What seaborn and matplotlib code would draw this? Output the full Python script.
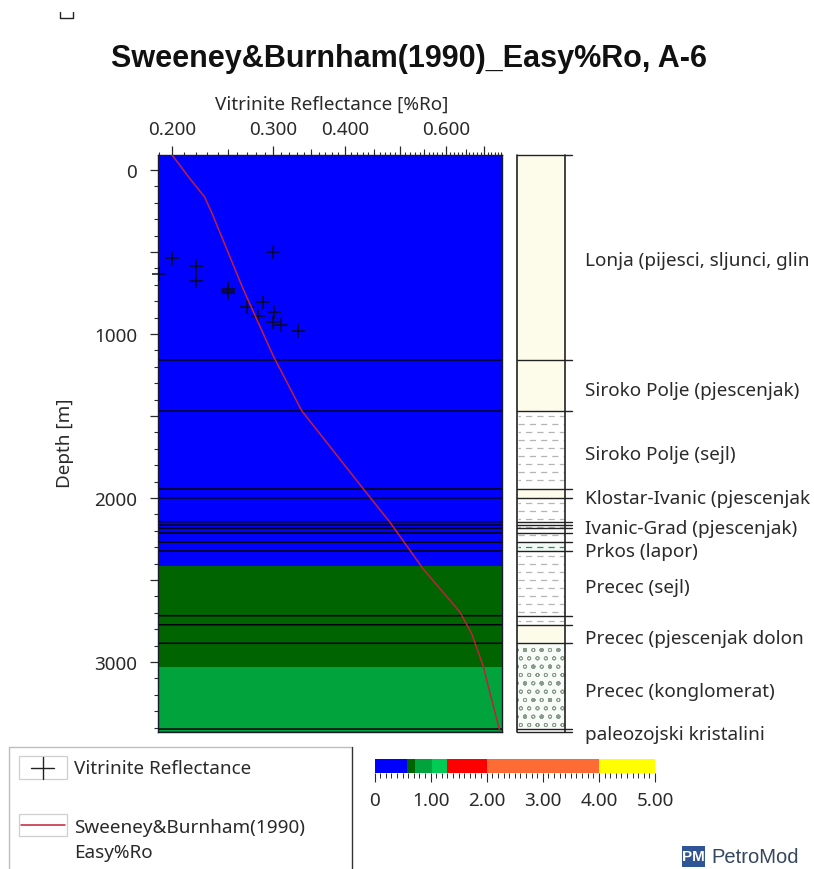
import numpy as np
import pandas as pd
import seaborn as sns
import matplotlib
matplotlib.use("Agg")
import matplotlib.pyplot as plt
from matplotlib.patches import Rectangle
from matplotlib.lines import Line2D
from matplotlib.ticker import FixedLocator, FixedFormatter, NullFormatter

# ---------- data ----------
vr_values = [0.300, 0.200, 0.190, 0.220, 0.220, 0.250, 0.250, 0.250, 0.270, 0.288, 0.282, 0.301, 0.300, 0.310, 0.332]
vr_depths = [498, 537, 635, 583, 677, 726, 738, 750, 837, 803, 888, 868, 929, 945, 984]
curve_ro = [0.200, 0.215, 0.228, 0.235, 0.266, 0.300, 0.3365, 0.431, 0.4795, 0.496, 0.548, 0.635, 0.666, 0.697, 0.745]
curve_depth = [-91, 55, 166, 268, 726, 1132, 1468, 1945, 2148, 2220, 2433, 2695, 2829, 3023, 3419]
horizons = [1159, 1470, 1945, 2000, 2145, 2165, 2185, 2213, 2270, 2323, 2718, 2773, 2886, 3409]
band_edges = [-91, 2417, 3031, 3427]
band_colors = ["#0000FF", "#006400", "#00A33C"]
scale_edges = [0, 0.58, 0.72, 1.03, 1.3, 2.0, 4.0, 5.0]
scale_colors = ["#0000FF", "#006400", "#00A33C", "#00CC55", "#FF0000", "#FF6B35", "#FFFF00"]
scale_ticks = [0, 1, 2, 3, 4, 5]
scale_labels = ["0", "1.00", "2.00", "3.00", "4.00", "5.00"]
lith_tops = [-91, 1159, 1470, 1945, 2000, 2145, 2270, 2323, 2718, 2773, 2886, 3409]
lith_bots = [1159, 1470, 1945, 2000, 2145, 2270, 2323, 2718, 2773, 2886, 3409, 3427]
lith_kind = ["sand", "sand", "shale", "sand", "shale", "shale", "marl", "shale", "shale", "sand", "congl", "shale"]
layer_names = ["Lonja (pijesci, sljunci, glin", "Siroko Polje (pjescenjak)", "Siroko Polje (sejl)",
               "Klostar-Ivanic (pjescenjak", "Ivanic-Grad (pjescenjak)", "Prkos (lapor)",
               "Precec (sejl)", "Precec (pjescenjak dolon", "Precec (konglomerat)", "paleozojski kristalini"]
layer_label_depth = [535, 1330, 1720, 1990, 2170, 2310, 2530, 2843, 3165, 3430]
x_major = [0.2, 0.3, 0.4, 0.5, 0.6, 0.7]
x_major_labels = ["0.200", "0.300", "0.400", "", "0.600", ""]
x_mid = [0.25, 0.35, 0.45, 0.55, 0.65]
x_minor = [v / 100 for v in range(19, 76)]
y_major = [0, 500, 1000, 1500, 2000, 2500, 3000]
y_major_labels = ["0", "", "1000", "", "2000", "", "3000"]
y_minor = list(range(0, 3500, 100))

# ---------- style ----------
W, H = 814, 870
sns.set_theme(style="ticks")
FONT = "Noto Sans"
plt.rcParams["font.family"] = [FONT, "DejaVu Sans"]
plt.rcParams["hatch.linewidth"] = 0.6
TXT = "#2a2a2a"
TS = 13.6
RED = "#C2203A"

fig = plt.figure(figsize=(W / 100, H / 100), dpi=100, facecolor="white")


def axes_px(x0, y0, x1, y1, **kw):
    return fig.add_axes([x0 / W, 1 - y1 / H, (x1 - x0) / W, (y1 - y0) / H], **kw)


# ---------- main panel ----------
ax = axes_px(158, 156, 502, 733)
ax.set_xscale("log")
for top, bot, col in zip(band_edges[:-1], band_edges[1:], band_colors):
    ax.axhspan(top, bot, color=col, lw=0, zorder=0)
for d in horizons:
    ax.axhline(d, color="#000010", lw=1.1, zorder=1, snap=False)
ax.axhline(3427, color="black", lw=1.0, zorder=1)

vr_df = pd.DataFrame({"ro": vr_values, "depth": vr_depths})
sns.scatterplot(data=vr_df, x="ro", y="depth", marker="+", s=90, color="#0a0a25",
                linewidth=1.1, ax=ax, zorder=3, clip_on=False)
curve_df = pd.DataFrame({"ro": curve_ro, "depth": curve_depth})
sns.lineplot(data=curve_df, x="ro", y="depth", sort=False, estimator=None, color=RED,
             lw=1.1, ax=ax, zorder=4)

ax.set_xlim(0.189, 0.752)
ax.set_ylim(3427, -91)
ax.set_xlabel("Vitrinite Reflectance [%Ro]", fontsize=TS, color=TXT, va="center")
ax.xaxis.set_label_position("top")
ax.xaxis.set_label_coords((332 - 158) / 344, (733 - 110) / 577)
ax.set_ylabel("Depth [m]", fontsize=TS, color=TXT, va="center")
ax.yaxis.set_label_coords((65 - 158) / 344, (733 - 443) / 577)
ax.xaxis.tick_top()
ax.xaxis.set_major_locator(FixedLocator(x_major))
ax.xaxis.set_major_formatter(FixedFormatter(x_major_labels))
ax.xaxis.set_minor_locator(FixedLocator(x_minor))
ax.xaxis.set_minor_formatter(NullFormatter())
ax.yaxis.set_major_locator(FixedLocator(y_major))
ax.yaxis.set_major_formatter(FixedFormatter(y_major_labels))
ax.yaxis.set_minor_locator(FixedLocator(y_minor))
ax.tick_params(axis="x", which="major", length=6.5, width=0.9, labelsize=TS, pad=6, colors=TXT, top=True, bottom=False)
ax.tick_params(axis="x", which="minor", length=2.2, width=0.8, colors=TXT, top=True, bottom=False)
ax.tick_params(axis="y", which="major", length=6, width=0.9, labelsize=TS, pad=9, colors=TXT)
ax.tick_params(axis="y", which="minor", length=3, width=0.8, colors=TXT)
ax.vlines(x_mid, 1, 1 + 6 / 577, transform=ax.get_xaxis_transform(), color=TXT, lw=0.8, clip_on=False)
for s in ax.spines.values():
    s.set_color("#1a1a2a")
    s.set_linewidth(1.0)

# ---------- lithology column ----------
lx = axes_px(517, 156, 565, 733)
lx.set_xlim(0, 1)
lx.set_ylim(3427, -91)
lx.axis("off")
fills = {"sand": "#FDFBE9", "shale": "#FFFFFF", "marl": "#F2FAF6", "congl": "#F8FCF8"}
for top, bot, kind in zip(lith_tops, lith_bots, lith_kind):
    hatch = "oo." if kind == "congl" else None
    lx.bar(0.5, bot - top, bottom=top, width=1, color=fills[kind], hatch=hatch,
           edgecolor="#8a9a8c" if hatch else fills[kind], lw=0)
    if kind in ("shale", "marl"):
        rows = np.arange(top + 30, bot - 5, 49)
        for i, r in enumerate(rows):
            off = (0, (5, 4)) if i % 2 else (3, (5, 4))
            lx.plot([0.03, 0.97], [r, r], color="#2E8B6A" if kind == "marl" else "#b5b5b5",
                    lw=0.9, linestyle=off)
for s in ("left", "right"):
    lx.plot([0 if s == "left" else 1] * 2, [-91, 3427], color="#222222", lw=1.2, clip_on=False)
for d in [-91] + horizons + [3427]:
    lx.plot([0, 1.15], [d, d], color="#222222", lw=1.0, clip_on=False)

# ---------- overlay: labels, legend, logo ----------
ov = fig.add_axes([0, 0, 1, 1], facecolor="none")
ov.set_xlim(0, W)
ov.set_ylim(H, 0)
ov.axis("off")
ov.text(409, 59, "Sweeney&Burnham(1990)_Easy%Ro, A-6", ha="center", va="center", fontsize=22,
        fontweight="bold", family="Liberation Sans", color="#111111")
for name, d in zip(layer_names, layer_label_depth):
    y_px = 158 + (d + 91) * (733 - 156) / (3427 + 91)
    ov.text(585, y_px, name, ha="left", va="center", fontsize=TS, color=TXT)

ov.add_line(Line2D([9, 9, 352], [870, 748, 748], color="#bdbdbd", lw=1.0))
ov.add_line(Line2D([352, 352], [748, 870], color="#333333", lw=1.0))
ov.add_patch(Rectangle((19, 757), 48, 23, fc="white", ec="#cfcfcf", lw=0.9))
ov.add_line(Line2D([31, 54], [769, 769], color="#222222", lw=1.0))
ov.add_line(Line2D([43, 43], [758, 780], color="#222222", lw=1.0))
ov.text(74, 769, "Vitrinite Reflectance", fontsize=TS, va="center", color=TXT)
ov.add_patch(Rectangle((19, 815), 48, 22, fc="white", ec="#cfcfcf", lw=0.9))
ov.add_line(Line2D([21, 65], [826, 826], color=RED, lw=1.1))
ov.text(74, 828, "Sweeney&Burnham(1990)", fontsize=TS, va="center", color=TXT)
ov.text(74, 853, "Easy%Ro", fontsize=TS, va="center", color=TXT)

ov.add_patch(Rectangle((682, 847), 23, 21, fc="#2F5597", ec="none"))
ov.text(693.5, 857.5, "PM", fontsize=11, color="white", ha="center", va="center", fontweight="bold",
        family="Liberation Sans")
ov.text(711, 858, "PetroMod", fontsize=14.5, color="#34475f", va="center", ha="left",
        family="Liberation Sans")
ov.add_line(Line2D([60, 60, 73, 73], [13, 19, 19, 13], color="#222222", lw=1.0))

# ---------- colour scale ----------
cb = axes_px(374.5, 760, 655, 774)
cb.barh([0.5] * len(scale_colors), np.diff(scale_edges), left=scale_edges[:-1], height=1,
        color=scale_colors, lw=0)
cb.set_xlim(0, 5)
cb.set_ylim(0, 1)
cb.set_yticks([])
cb.set_xticks(scale_ticks)
cb.set_xticklabels(scale_labels, fontsize=TS, color=TXT)
cb.set_xticks([v / 10 for v in range(51)], minor=True)
cb.tick_params(axis="x", which="major", length=6.5, width=0.8, pad=6.5, color=TXT)
cb.tick_params(axis="x", which="minor", length=3.5, width=0.7, color=TXT)
for s in ("top", "left", "right", "bottom"):
    cb.spines[s].set_visible(False)

fig.savefig("out.png", dpi=100, facecolor="white")
